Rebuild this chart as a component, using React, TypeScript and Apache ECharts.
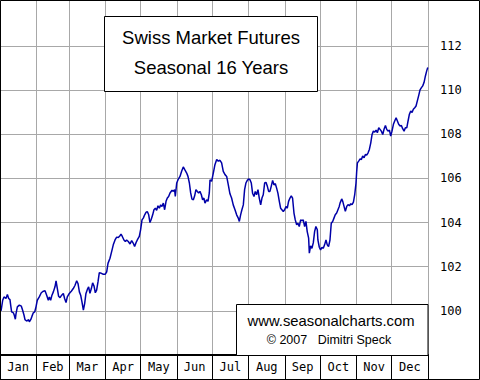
import React, { useEffect, useRef } from "react";
import * as echarts from "echarts";

const monthNames = ["Jan", "Feb", "Mar", "Apr", "May", "Jun", "Jul", "Aug", "Sep", "Oct", "Nov", "Dec"];
const monthBounds = [0, 31, 59, 90, 120, 151, 181, 212, 243, 273, 304, 334, 365];
const monthCenters = [15.5, 45, 74.5, 105, 135.5, 166, 196.5, 227.5, 258, 288.5, 319, 349.5];
const yTicks = [100, 102, 104, 106, 108, 110, 112];

const days = [
  0.9, 2.3, 3.4, 5.1, 6.3, 7.4, 8.5, 9.1, 9.9, 11.4, 12.2, 13.1, 13.6, 14.8, 16.5, 18.2, 19.3, 20.5, 21.3, 22.7,
  24.4, 25.0, 26.2, 27.3, 28.4, 29.6, 30.7, 31.8, 33.5, 35.2, 37.0, 38.4, 39.8, 41.2, 42.1, 43.2, 44.3, 45.5, 46.9,
  47.8, 48.9, 50.0, 51.2, 52.6, 54.0, 55.1, 56.3, 57.4, 59.1, 60.8, 62.5, 64.0, 65.4, 66.5, 67.7, 68.8, 69.9, 71.1,
  72.2, 73.3, 74.5, 75.6, 76.7, 77.9, 79.0, 80.2, 81.3, 82.4, 83.6, 84.7, 86.4, 88.1, 89.8, 91.0, 92.1,
  93.8, 95.2, 96.6, 98.1, 99.5, 100.9, 102.3, 103.2, 104.3, 105.7, 106.9, 108.0, 109.4, 110.9, 112.3, 113.7, 114.8,
  116.0, 117.1, 118.8, 119.9, 121.1, 122.2, 123.4, 124.5, 125.6, 126.8, 127.9, 129.0, 130.2, 131.3, 132.5, 133.6,
  134.7, 135.9, 137.0, 138.1, 139.3, 140.4, 141.6, 142.7, 143.8, 145.0, 146.7, 147.8, 148.9, 149.5, 150.7, 152.1,
  153.5, 154.9, 156.3, 157.8, 159.2, 160.3, 161.5, 162.6, 163.7, 164.9, 166.0, 167.1, 168.3, 169.4, 170.5, 171.7,
  172.8, 173.9, 174.8, 176.2, 177.4, 178.5, 179.1, 180.5, 181.9, 183.3, 184.8, 186.2, 187.6, 189.0, 190.4, 191.9,
  193.3, 194.7,
  196.1, 197.5, 198.9, 200.4, 201.8, 203.2, 204.1, 205.2, 206.3, 207.5, 208.6, 209.7, 210.9, 212.0, 213.2, 214.3,
  215.4, 216.6, 217.7, 218.8, 220.0, 221.1, 222.3, 223.4, 224.5, 225.7, 226.8, 228.0, 229.1, 230.2, 231.3, 232.5,
  233.6, 234.8, 235.9, 237.0, 238.2, 239.3, 240.4, 241.6, 242.7, 243.9, 245.0, 246.1, 247.3, 248.4, 249.5, 250.7,
  251.8, 253.0, 254.1, 255.2, 256.4, 257.5, 258.6, 259.8, 260.9, 262.0, 263.2, 263.8, 264.9, 266.0, 267.2, 268.3,
  269.4, 270.6, 271.1, 272.3, 273.4, 274.6, 275.7, 276.8, 278.0, 279.1, 280.2, 281.4, 282.5, 283.7, 284.8, 285.9,
  287.1, 288.2, 289.3,
  290.0, 291.4, 292.3, 293.4, 294.5, 295.7, 296.8, 298.0, 299.1, 300.2, 301.4, 302.5, 303.6, 304.2, 304.8, 305.9,
  307.1, 308.2, 309.3, 310.5, 311.6, 312.7, 313.9, 315.0, 316.2, 317.3, 318.4, 319.6, 320.7, 321.8, 323.0, 324.1,
  325.2, 326.4, 327.5, 328.7, 329.8, 330.9, 332.1, 333.2, 334.3, 335.5, 336.6, 337.8, 338.9, 340.0, 341.2, 342.3,
  343.4, 344.6, 345.7, 346.9, 348.0, 349.1, 350.3, 351.4, 352.5, 353.7, 354.8, 355.9, 357.1, 358.2, 359.4, 360.5,
  361.6, 362.8, 363.9, 364.8,
];

const values = [
  100.0, 100.48, 100.63, 100.56, 100.74, 100.56, 100.51, 100.26, 99.95, 99.91, 99.8, 99.62, 99.85, 100.18, 100.26,
  100.21, 100.03, 99.8, 99.6, 99.54, 99.6, 99.5, 99.6, 99.76, 99.91, 99.95, 100.18, 100.48, 100.63, 100.82, 100.89,
  100.91, 100.71, 100.48, 100.63, 100.48, 100.71, 100.86, 101.09, 101.36, 101.01, 100.66, 100.6, 100.71, 100.79,
  100.56, 100.38, 100.63, 100.79, 100.89, 101.01, 101.16, 101.36, 101.24, 100.86, 100.71, 100.41, 100.03, 100.33,
  100.79, 100.97, 101.09, 100.79, 101.01, 101.27, 101.12, 100.82, 100.94, 101.32, 101.73, 101.7, 101.66, 101.66,
  101.77, 102.15,
  102.38, 102.68, 102.99, 103.21, 103.34, 103.32, 103.4, 103.47, 103.37, 103.21, 103.14, 103.21, 103.14, 103.03,
  103.18, 103.06, 102.91, 103.09, 103.21, 103.37, 103.67, 104.12, 104.2, 104.35, 104.46, 104.5, 104.35, 104.0,
  104.15, 104.35, 104.58, 104.65, 104.55, 104.76, 104.65, 104.8, 104.73, 104.88, 104.58, 104.96, 105.11, 105.18,
  105.34, 105.46, 105.41, 105.49, 105.18, 105.79, 105.97, 106.09, 106.32, 106.52, 106.37, 106.24, 106.09, 105.79,
  105.34, 105.06, 105.03, 105.21, 105.49, 105.41, 105.34, 105.41, 105.26, 105.03, 105.11, 104.88, 105.03, 104.96,
  105.34, 105.94, 105.87, 106.24, 106.62, 106.85, 106.78, 106.82, 106.7, 106.32, 106.17, 106.09, 105.71,
  105.3, 105.11, 104.8, 104.58, 104.35, 104.2, 104.05, 104.35, 104.58, 104.8, 105.49, 105.79, 105.91, 105.97,
  105.94, 105.79, 105.33, 105.18, 105.41, 105.26, 105.49, 105.11, 104.8, 105.11, 105.26, 105.79, 105.82, 105.64,
  105.41, 105.41, 105.64, 105.91, 105.71, 105.76, 105.56, 105.33, 104.96, 104.65, 104.58, 104.5, 104.58, 104.73,
  104.65, 104.96, 105.11, 105.21, 105.11, 104.43, 104.12, 103.9, 103.97, 103.82, 104.12, 104.09, 104.12, 103.82,
  104.05, 103.59, 103.29, 102.61, 102.94, 102.83, 103.09, 103.59, 103.82, 103.67, 103.21, 102.88, 102.76, 102.88,
  102.83, 102.99, 103.21, 102.99, 102.91, 103.21, 103.97, 104.05, 104.2, 104.35, 104.43, 104.58, 104.73,
  104.88, 105.07, 104.96, 104.73, 104.51, 104.73, 104.81, 104.76, 104.85, 104.81, 104.92, 105.26, 105.79, 106.32,
  106.7, 106.78, 106.88, 106.85, 107.01, 106.93, 107.08, 107.05, 107.16, 107.31, 107.61, 107.99, 108.14, 108.1,
  108.19, 108.07, 108.29, 108.22, 108.14, 107.99, 108.22, 108.4, 108.22, 108.14, 108.19, 107.92, 108.14, 108.45,
  108.6, 108.75, 108.6, 108.45, 108.37, 108.4, 108.25, 108.14, 108.29, 108.29, 108.6, 108.9, 109.05, 108.98,
  109.13, 109.2, 109.28, 109.51, 109.76, 110.01, 110.11, 110.19, 110.34, 110.64, 110.87, 111.02,
];

const titleLines = ["Swiss Market Futures", "Seasonal 16 Years"];
const creditLines = ["www.seasonalcharts.com", "\u00a9 2007   Dimitri Speck"];

const MONO = "'DejaVu Sans Mono', monospace";
const SANS = "'Liberation Sans', Arial, sans-serif";

export default function App() {
  const ref = useRef<HTMLDivElement>(null);

  useEffect(() => {
    if (!ref.current) return;
    const chart = echarts.init(ref.current, null, { renderer: "svg" });
    chart.setOption({
      animation: false,
      backgroundColor: "#ffffff",
      grid: { left: 0, top: 0, right: 52, bottom: 25, containLabel: false },
      xAxis: {
        type: "value",
        min: 0,
        max: 365,
        axisLine: { show: true, lineStyle: { color: "#000", width: 2 } },
        axisTick: {
          show: true,
          customValues: monthBounds,
          length: 25,
          inside: false,
          lineStyle: { color: "#000", width: 1 },
        },
        axisLabel: {
          show: true,
          customValues: monthCenters,
          formatter: (v: number) => {
            let best = 0;
            for (let i = 0; i < monthCenters.length; i++) {
              if (Math.abs(monthCenters[i] - v) < Math.abs(monthCenters[best] - v)) best = i;
            }
            return monthNames[best];
          },
          fontFamily: MONO,
          fontSize: 12,
          color: "#000",
          margin: 6,
        },
        splitLine: { show: true, lineStyle: { color: "#a8a8a8", width: 1 } },
      },
      yAxis: {
        type: "value",
        position: "right",
        min: 98,
        max: 114.08,
        interval: 2,
        axisLine: { show: true, lineStyle: { color: "#a8a8a8", width: 1 } },
        axisTick: { show: false, customValues: yTicks },
        axisLabel: {
          show: true,
          customValues: yTicks,
          fontFamily: MONO,
          fontSize: 12,
          color: "#000",
          margin: 12,
        },
        splitLine: { show: true, lineStyle: { color: "#a8a8a8", width: 1 } },
      },
      series: [
        {
          type: "line",
          data: days.map((d, i) => [d, values[i]]),
          showSymbol: false,
          symbol: "none",
          lineStyle: { color: "#0000a8", width: 1.5 },
          z: 3,
        },
      ],
      graphic: [
        {
          type: "rect",
          shape: { x: 104.5, y: 16.5, width: 213, height: 75 },
          style: { fill: "#fff", stroke: "#000", lineWidth: 1 },
          z: 10,
        },
        {
          type: "text",
          x: 211,
          y: 37,
          style: { text: titleLines[0], font: `18.5px ${SANS}`, fill: "#000", align: "center", verticalAlign: "middle" },
          z: 11,
        },
        {
          type: "text",
          x: 211,
          y: 67,
          style: { text: titleLines[1], font: `18.5px ${SANS}`, fill: "#000", align: "center", verticalAlign: "middle" },
          z: 11,
        },
        {
          type: "rect",
          shape: { x: 236.5, y: 304.5, width: 191.5, height: 51 },
          style: { fill: "#fff", stroke: "#000", lineWidth: 1 },
          z: 10,
        },
        {
          type: "text",
          x: 331,
          y: 321,
          style: { text: creditLines[0], font: `14.8px ${SANS}`, fill: "#000", align: "center", verticalAlign: "middle" },
          z: 11,
        },
        {
          type: "text",
          x: 329,
          y: 339.5,
          style: { text: creditLines[1], font: `12.5px ${SANS}`, fill: "#000", align: "center", verticalAlign: "middle" },
          z: 11,
        },
        {
          type: "rect",
          shape: { x: 0.5, y: 0.5, width: 479, height: 379 },
          style: { fill: "none", stroke: "#000", lineWidth: 1 },
          z: 20,
        },
      ],
    });
    return () => chart.dispose();
  }, []);

  return (
    <div
      ref={ref}
      style={{ position: "absolute", left: 0, top: 0, width: 480, height: 380, background: "#fff" }}
    />
  );
}
